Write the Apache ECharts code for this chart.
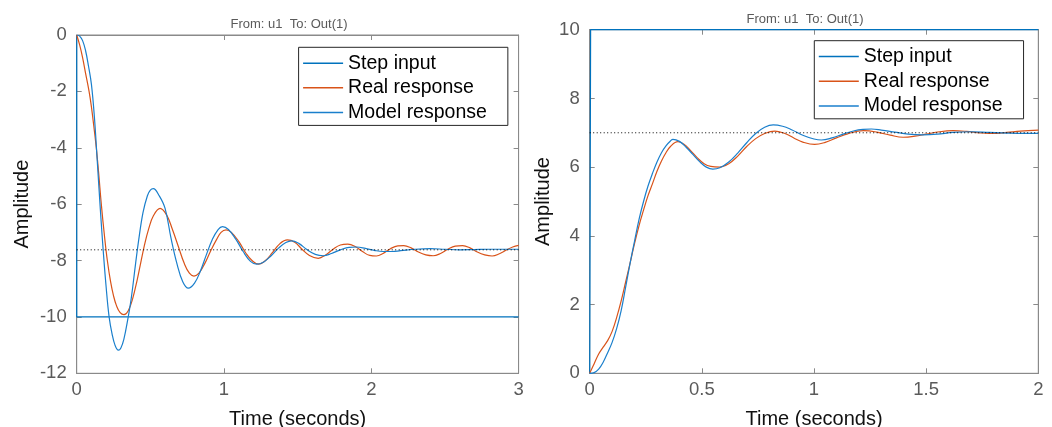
<!DOCTYPE html>
<html>
<head>
<meta charset="utf-8">
<title>Step response</title>
<script src="https://cdn.jsdelivr.net/npm/echarts@6/dist/echarts.min.js"></script>
<style>
  html, body { margin: 0; padding: 0; background: #fff; }
  #main { width: 1052px; height: 427px; }
</style>
</head>
<body>
<div id="main"></div>
<script>
// legend names
var seriesNames = ['Step input', 'Real response', 'Model response']
var titleText = 'From: u1  To: Out(1)'

// left plot: [time, amplitude]
var leftStep = [[0, 0], [0, -10], [3, -10]]
var leftFinal = [[0, -7.62], [3, -7.62]]
var leftReal = [[0, 0], [0.02, -0.35], [0.04, -0.8], [0.06, -1.35], [0.084, -2.0], [0.10, -2.55], [0.12, -3.4],
  [0.133, -4.0], [0.15, -4.95], [0.167, -6.0], [0.19, -7.2], [0.208, -8.0], [0.23, -8.75], [0.25, -9.25],
  [0.27, -9.6], [0.295, -9.85], [0.321, -9.92], [0.35, -9.78], [0.38, -9.35], [0.41, -8.7], [0.43, -8.2],
  [0.46, -7.45], [0.49, -6.85], [0.52, -6.42], [0.566, -6.15], [0.61, -6.38], [0.65, -6.9], [0.69, -7.5],
  [0.73, -8.1], [0.765, -8.45], [0.796, -8.55], [0.83, -8.45], [0.87, -8.1], [0.91, -7.65], [0.95, -7.25],
  [0.98, -7.0], [1.014, -6.91], [1.05, -7.0], [1.10, -7.32], [1.15, -7.75], [1.19, -8.0], [1.233, -8.13],
  [1.28, -8.01], [1.33, -7.71], [1.38, -7.4], [1.43, -7.27], [1.48, -7.35], [1.53, -7.6], [1.58, -7.82],
  [1.64, -7.92], [1.69, -7.8], [1.74, -7.6], [1.79, -7.45], [1.84, -7.42], [1.89, -7.5], [1.94, -7.68],
  [1.99, -7.82], [2.035, -7.84], [2.08, -7.75], [2.13, -7.58], [2.18, -7.48], [2.22, -7.47], [2.27, -7.55],
  [2.32, -7.7], [2.37, -7.8], [2.42, -7.83], [2.47, -7.75], [2.52, -7.6], [2.57, -7.49], [2.62, -7.47],
  [2.67, -7.55], [2.72, -7.7], [2.77, -7.8], [2.82, -7.84], [2.87, -7.76], [2.92, -7.62], [2.96, -7.52], [3.0, -7.46]]
var leftModel = [[0, 0], [0.02, -0.04], [0.04, -0.2], [0.06, -0.55], [0.08, -1.1], [0.10, -1.75], [0.12, -2.9],
  [0.14, -4.5], [0.16, -6.15], [0.18, -7.65], [0.20, -8.95], [0.22, -10.0], [0.24, -10.6], [0.26, -11.0],
  [0.283, -11.18], [0.30, -11.1], [0.32, -10.8], [0.348, -10.05], [0.37, -9.35], [0.40, -8.1], [0.42, -7.3],
  [0.45, -6.3], [0.48, -5.7], [0.50, -5.5], [0.52, -5.45], [0.56, -5.7], [0.60, -6.15], [0.64, -7.2],
  [0.68, -8.1], [0.72, -8.75], [0.758, -8.98], [0.80, -8.8], [0.84, -8.37], [0.88, -7.8], [0.92, -7.26],
  [0.96, -6.9], [0.99, -6.8], [1.03, -6.9], [1.08, -7.24], [1.13, -7.68], [1.18, -8.03], [1.222, -8.13],
  [1.27, -8.05], [1.32, -7.83], [1.37, -7.56], [1.42, -7.36], [1.46, -7.30], [1.51, -7.4], [1.56, -7.6],
  [1.62, -7.78], [1.674, -7.83], [1.73, -7.75], [1.79, -7.62], [1.85, -7.53], [1.90, -7.52], [1.96, -7.57],
  [2.02, -7.64], [2.08, -7.68], [2.14, -7.68], [2.2, -7.65], [2.3, -7.6], [2.4, -7.58], [2.5, -7.6],
  [2.6, -7.62], [2.7, -7.61], [2.8, -7.6], [2.9, -7.6], [3.0, -7.6]]

// right plot: [time, amplitude]
var rightStep = [[0, 0], [0.004, 10], [2, 10]]
var rightFinal = [[0, 7], [2, 7]]
var rightReal = [[0, 0], [0.02, 0.28], [0.04, 0.56], [0.06, 0.76], [0.08, 0.95], [0.10, 1.22], [0.12, 1.62],
  [0.14, 2.1], [0.16, 2.65], [0.178, 3.15], [0.20, 3.78], [0.22, 4.3], [0.24, 4.75], [0.26, 5.17], [0.28, 5.52],
  [0.30, 5.88], [0.32, 6.18], [0.34, 6.42], [0.36, 6.6], [0.393, 6.74], [0.42, 6.67], [0.45, 6.48], [0.48, 6.27],
  [0.51, 6.1], [0.54, 6.02], [0.579, 6.0], [0.62, 6.1], [0.66, 6.32], [0.70, 6.6], [0.74, 6.83], [0.78, 6.98],
  [0.825, 7.05], [0.87, 6.98], [0.91, 6.85], [0.95, 6.73], [1.003, 6.66], [1.05, 6.72], [1.10, 6.85],
  [1.15, 6.97], [1.22, 7.06], [1.28, 7.02], [1.34, 6.93], [1.397, 6.87], [1.45, 6.9], [1.50, 6.96],
  [1.56, 7.03], [1.62, 7.06], [1.68, 7.04], [1.74, 7.0], [1.80, 6.98], [1.86, 7.01], [1.92, 7.05], [2.0, 7.08]]
var rightModel = [[0, 0], [0.02, 0.02], [0.04, 0.12], [0.06, 0.32], [0.08, 0.6], [0.10, 0.9], [0.12, 1.3],
  [0.14, 1.82], [0.16, 2.5], [0.18, 3.2], [0.20, 3.85], [0.22, 4.48], [0.24, 5.0], [0.26, 5.45], [0.28, 5.82],
  [0.30, 6.15], [0.32, 6.42], [0.34, 6.62], [0.36, 6.76], [0.371, 6.81], [0.40, 6.75], [0.43, 6.58],
  [0.46, 6.37], [0.49, 6.16], [0.52, 6.0], [0.549, 5.94], [0.58, 5.98], [0.62, 6.15], [0.66, 6.41],
  [0.70, 6.71], [0.74, 6.98], [0.78, 7.16], [0.818, 7.23], [0.86, 7.19], [0.90, 7.09], [0.95, 6.93],
  [1.0, 6.82], [1.033, 6.79], [1.08, 6.85], [1.13, 6.96], [1.18, 7.06], [1.22, 7.1], [1.256, 7.11],
  [1.30, 7.08], [1.36, 7.02], [1.42, 6.96], [1.486, 6.94], [1.55, 6.96], [1.62, 7.01], [1.70, 7.03],
  [1.78, 7.01], [1.86, 6.99], [1.94, 6.98], [2.0, 6.98]]

var FONT = "'Liberation Sans', Arial, Helvetica, sans-serif"
var AXIS_GRAY = '#8a8a8a'
var BLUE = '#0072BD'
var ORANGE = '#D95319'
var MODEL_BLUE = '#1a7fcc'

function mainX(grid, max, interval) {
  return {
    gridIndex: grid, type: 'value', min: 0, max: max, interval: interval, position: 'bottom',
    name: 'Time (seconds)', nameLocation: 'middle', nameGap: 36,
    nameTextStyle: { fontSize: 20, color: '#111', fontFamily: FONT },
    axisLine: { onZero: false, lineStyle: { color: AXIS_GRAY } },
    axisTick: { inside: true, length: 5, lineStyle: { color: AXIS_GRAY } },
    axisLabel: { margin: 7, fontSize: 18.5, color: '#5a5a5a', fontFamily: FONT },
    splitLine: { show: false }
  }
}
function topX(grid, max, interval) {
  return {
    gridIndex: grid, type: 'value', min: 0, max: max, interval: interval, position: 'top',
    axisLine: { onZero: false, lineStyle: { color: AXIS_GRAY } },
    axisTick: { inside: true, length: 5, lineStyle: { color: AXIS_GRAY } },
    axisLabel: { show: false }, splitLine: { show: false }
  }
}
function mainY(grid, min, max, gap) {
  return {
    gridIndex: grid, type: 'value', min: min, max: max, interval: 2, position: 'left',
    name: 'Amplitude', nameLocation: 'middle', nameGap: gap,
    nameTextStyle: { fontSize: 20, color: '#111', fontFamily: FONT },
    axisLine: { onZero: false, lineStyle: { color: AXIS_GRAY } },
    axisTick: { inside: true, length: 5, lineStyle: { color: AXIS_GRAY } },
    axisLabel: { margin: 10, fontSize: 18.5, color: '#5a5a5a', fontFamily: FONT },
    splitLine: { show: false }
  }
}
function rightY(grid, min, max) {
  return {
    gridIndex: grid, type: 'value', min: min, max: max, interval: 2, position: 'right',
    axisLine: { onZero: false, lineStyle: { color: AXIS_GRAY } },
    axisTick: { inside: true, length: 5, lineStyle: { color: AXIS_GRAY } },
    axisLabel: { show: false }, splitLine: { show: false }
  }
}
function curve(name, data, color, axis) {
  return {
    name: name, type: 'line', data: data, xAxisIndex: axis, yAxisIndex: axis,
    showSymbol: false, symbol: 'none', smooth: 0.4,
    lineStyle: { color: color, width: 1.2 }, itemStyle: { color: color }
  }
}
function finalLine(data, axis) {
  return {
    type: 'line', data: data, xAxisIndex: axis, yAxisIndex: axis, symbol: 'none', silent: true,
    lineStyle: { color: '#000', width: 1, type: [1, 2.5] }
  }
}
function legendBox(left, top) {
  return {
    data: seriesNames, orient: 'vertical', left: left, top: top,
    icon: 'rect', itemWidth: 40, itemHeight: 1.5, itemGap: 0,
    padding: [3.5, 21, 0.5, 4.5],
    backgroundColor: '#fff', borderColor: '#262626', borderWidth: 1, borderRadius: 0,
    textStyle: { fontSize: 19.5, color: '#000', fontFamily: FONT, lineHeight: 24.7 },
    selectedMode: false
  }
}

var myChart = echarts.init(document.getElementById('main'))
var option = {
  animation: false,
  backgroundColor: '#fff',
  grid: [
    { left: 76.7, top: 35, width: 441.9, height: 338.3, show: true, borderColor: AXIS_GRAY, borderWidth: 1,
      containLabel: false, outerBoundsMode: 'none' },
    { left: 589.7, top: 29.7, width: 448.6, height: 343.6, show: true, borderColor: AXIS_GRAY, borderWidth: 1,
      containLabel: false, outerBoundsMode: 'none' }
  ],
  xAxis: [mainX(0, 3, 1), topX(0, 3, 1), mainX(1, 2, 0.5), topX(1, 2, 0.5)],
  yAxis: [mainY(0, -12, 0, 44), rightY(0, -12, 0), mainY(1, 0, 10, 36), rightY(1, 0, 10)],
  legend: [legendBox(298.6, 47.3), legendBox(814.3, 40.7)],
  graphic: [
    { type: 'text', x: 289, y: 24.5, silent: true,
      style: { text: titleText, fontSize: 13, fontFamily: FONT, fill: '#5a5a5a',
        textAlign: 'center', textVerticalAlign: 'middle', align: 'center', verticalAlign: 'middle' } },
    { type: 'text', x: 805, y: 19.5, silent: true,
      style: { text: titleText, fontSize: 13, fontFamily: FONT, fill: '#5a5a5a',
        textAlign: 'center', textVerticalAlign: 'middle', align: 'center', verticalAlign: 'middle' } }
  ],
  series: [
    curve(seriesNames[0], leftStep, BLUE, 0),
    curve(seriesNames[1], leftReal, ORANGE, 0),
    curve(seriesNames[2], leftModel, MODEL_BLUE, 0),
    finalLine(leftFinal, 0),
    curve(seriesNames[0], rightStep, BLUE, 2),
    curve(seriesNames[1], rightReal, ORANGE, 2),
    curve(seriesNames[2], rightModel, MODEL_BLUE, 2),
    finalLine(rightFinal, 2)
  ]
}
// step input drawn with straight segments
option.series[0].smooth = false
option.series[4].smooth = false
myChart.setOption(option)
</script>
</body>
</html>
